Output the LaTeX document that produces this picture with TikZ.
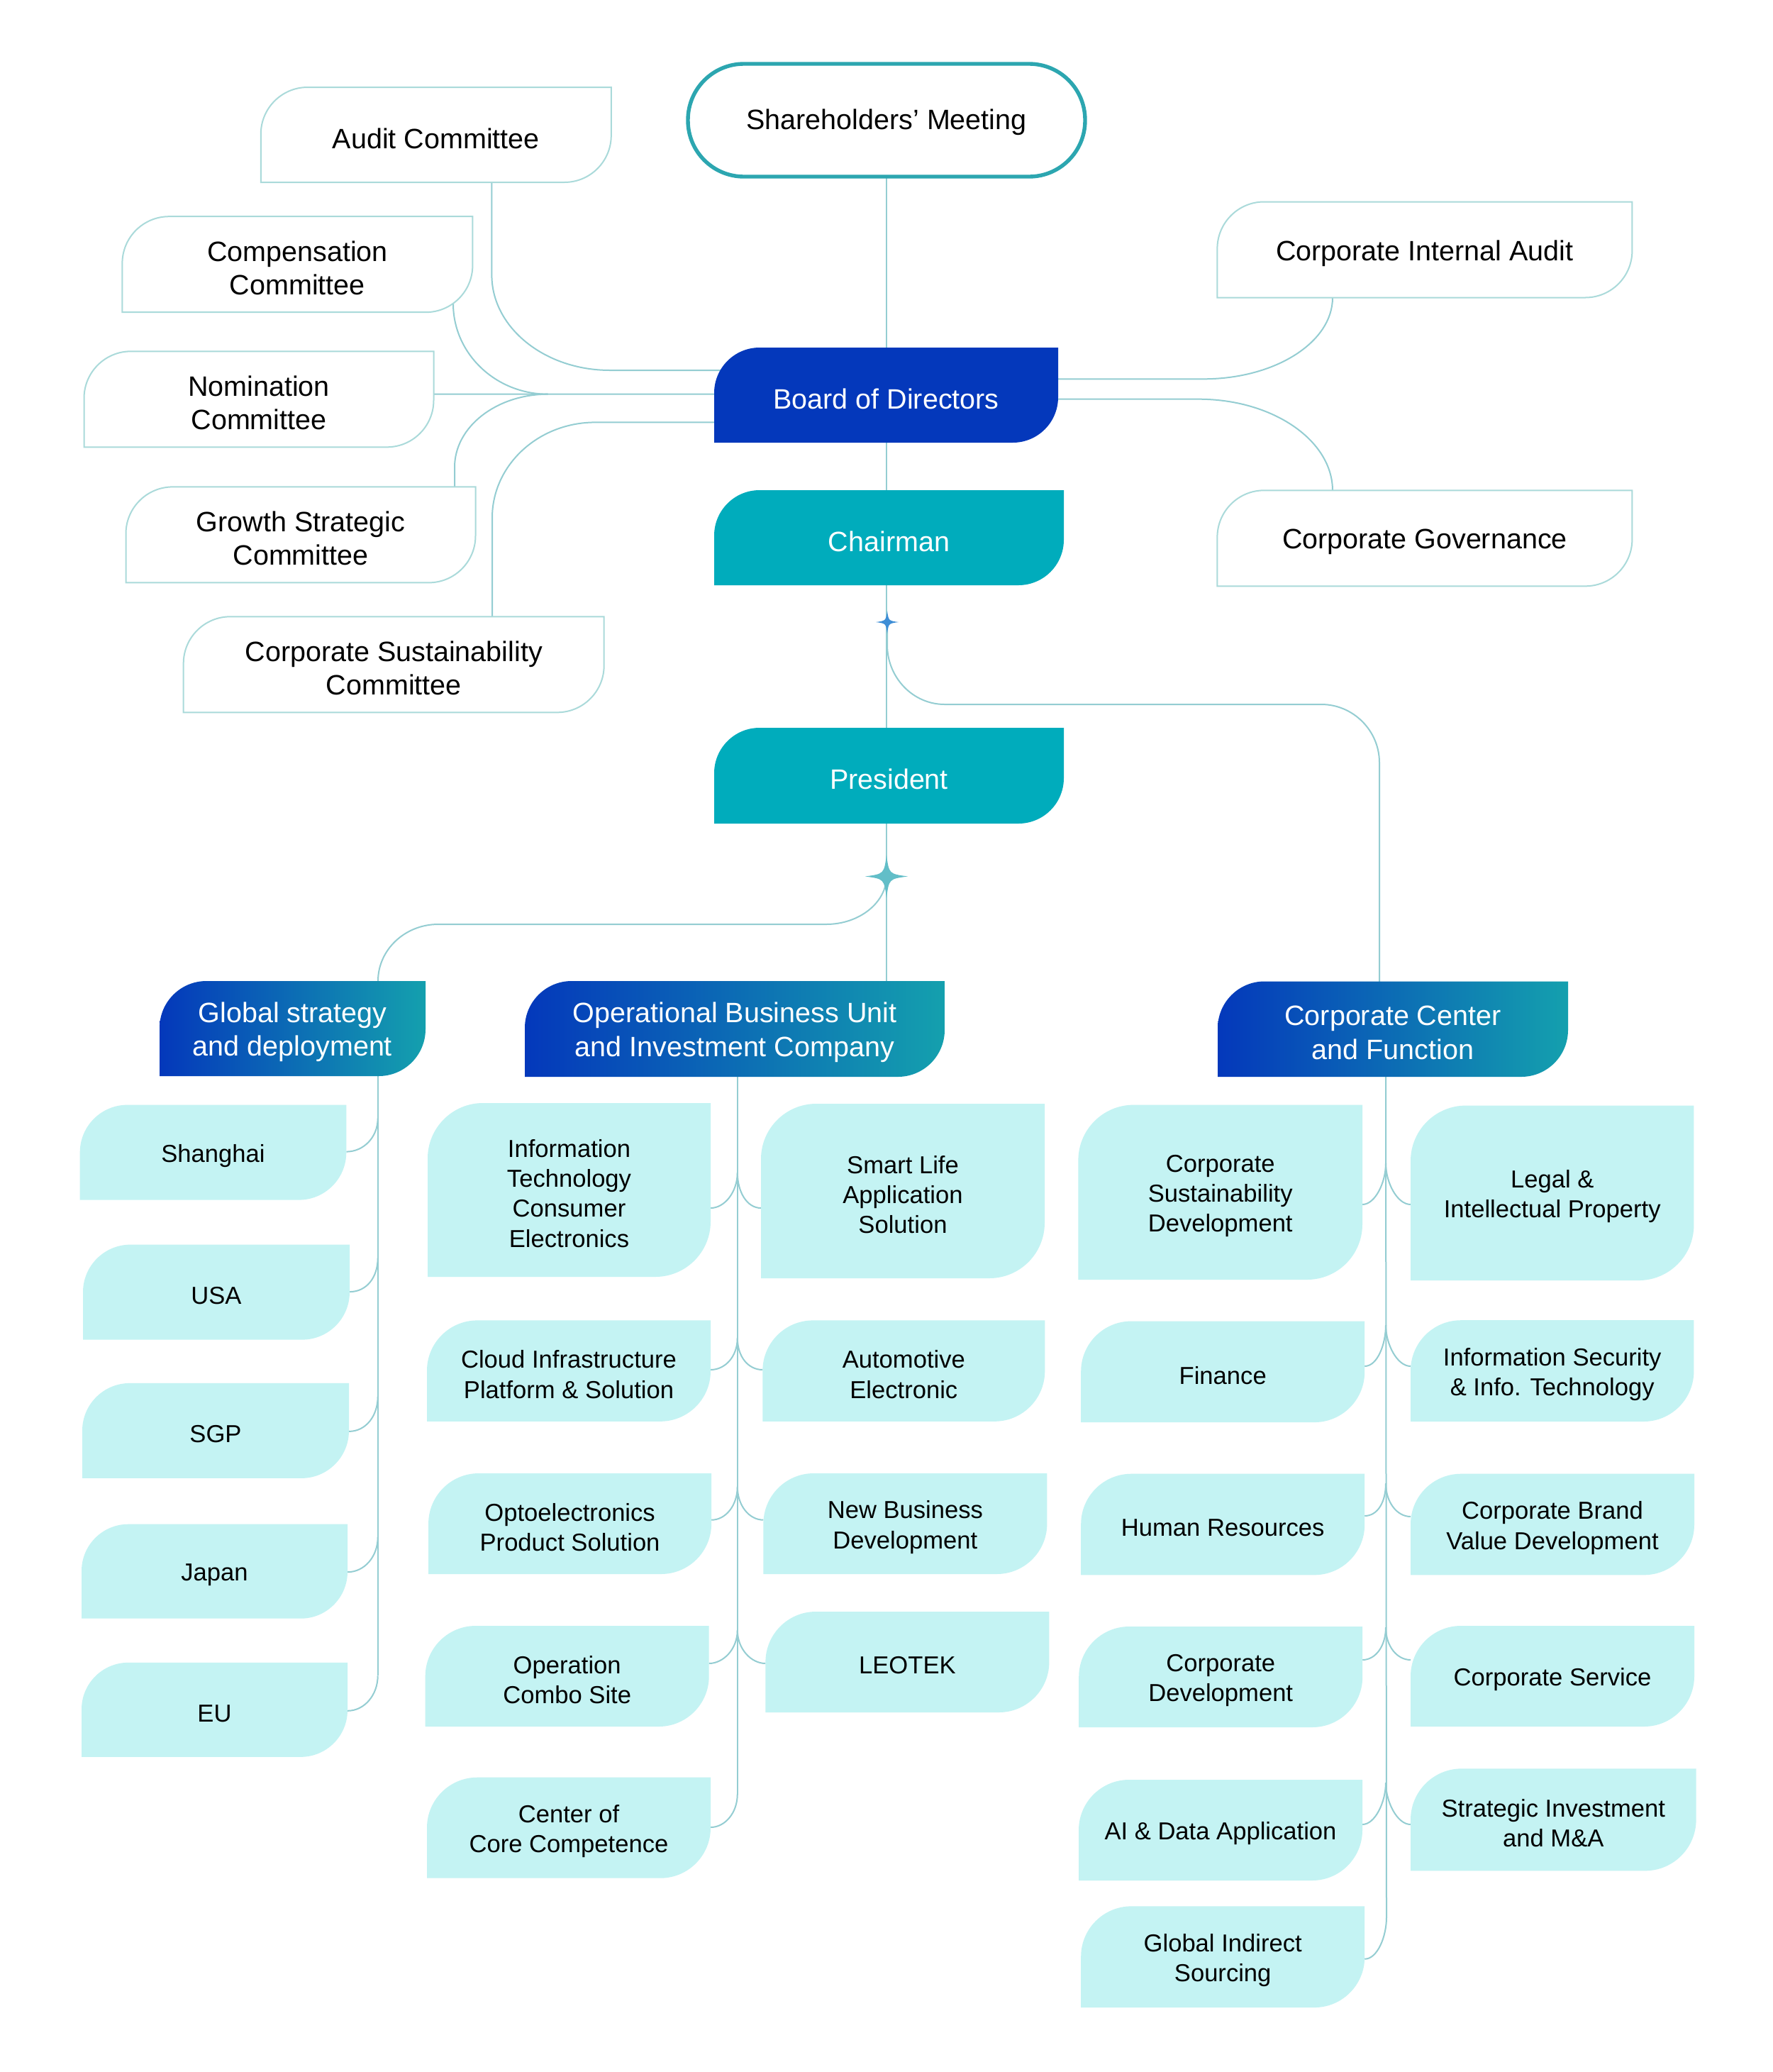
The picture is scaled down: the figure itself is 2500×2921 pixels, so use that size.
\documentclass[tikz,border=0pt]{standalone}
\usepackage{fontspec}
\setmainfont{Liberation Sans}
\usetikzlibrary{calc}
\pgfdeclarelayer{bg}
\pgfsetlayers{bg,main}
\definecolor{boardblue}{RGB}{4,56,187}
\definecolor{chairteal}{RGB}{0,172,188}
\definecolor{gradA}{RGB}{4,56,187}
\definecolor{gradB}{RGB}{20,160,174}
\definecolor{lightcyan}{RGB}{196,243,243}
\definecolor{shborder}{RGB}{44,166,176}
\definecolor{cmteline}{RGB}{170,218,218}
\definecolor{connc}{RGB}{148,205,210}
\definecolor{starblue}{RGB}{62,142,214}
\definecolor{starteal}{RGB}{98,190,200}
\tikzset{
  connline/.style={draw=connc, line width=2pt},
  cmtebox/.style={draw=cmteline, line width=2pt, fill=white},
  lightbox/.style={fill=lightcyan},
  gradbox/.style={left color=gradA, right color=gradB},
  boxframe/.style={inner sep=0pt, outer sep=0pt},
  txtA/.style={font=\fontsize{39.5}{47.5}\selectfont, align=center, text=black, inner sep=0pt},
  txtW/.style={txtA, text=white},
  txtB/.style={font=\fontsize{34.6}{42.2}\selectfont, align=center, text=black, inner sep=0pt},
}
% box with rounded top-left and bottom-right corners
\newcommand\tbox[9]{%
  \pgfmathsetmacro\bxa{#2-#4/2}%
  \pgfmathsetmacro\bxb{#2+#4/2}%
  \pgfmathsetmacro\bya{#3-#5/2}%
  \pgfmathsetmacro\byb{#3+#5/2}%
  \pgfmathsetmacro\bkk{0.448*#6}%
  \path[#7] (\bxa,\byb) -- (\bxa,\bya+#6) .. controls (\bxa,\bya+\bkk) and (\bxa+\bkk,\bya) .. (\bxa+#6,\bya) -- (\bxb,\bya) -- (\bxb,\byb-#6) .. controls (\bxb,\byb-\bkk) and (\bxb-\bkk,\byb) .. (\bxb-#6,\byb) -- cycle;
  \node[boxframe, minimum width=#4pt, minimum height=#5pt] (#1) at (#2,#3) {};
  \node[#8] (#1-text) at (#2,#3+5) {#9};
}
% four-pointed star
\newcommand\fstar[5]{%
  \coordinate (#1) at (#2,#3);
  \pgfmathsetmacro\sk{0.12*#4}%
  \fill[#5] (#2,#3-#4) .. controls (#2+\sk,#3-\sk) .. (#2+#4,#3) .. controls (#2+\sk,#3+\sk) .. (#2,#3+#4) .. controls (#2-\sk,#3+\sk) .. (#2-#4,#3) .. controls (#2-\sk,#3-\sk) .. (#2,#3-#4) -- cycle;
}
\newcommand\brL[4]{\draw[connline] (#1) .. controls +(0,27) and +(#4,0) .. ($(#2.east)+(0,#3)$);}
\newcommand\brR[4]{\draw[connline] (#1) .. controls +(0,27) and +(-#4,0) .. ($(#2.west)+(0,#3)$);}
\begin{document}
\begin{tikzpicture}[x=1pt,y=-1pt]
\begin{pgfonlayer}{bg}
\fill[white] (0,0) rectangle (2500,2921);
\end{pgfonlayer}
\useasboundingbox (0,0) rectangle (2500,2921);

% top
\draw[draw=shborder, line width=5.4pt, fill=white, rounded corners=79pt] (970,90) rectangle (1530,249);
\node[boxframe, minimum width=560pt, minimum height=159pt] (sh) at (1250,169.5) {};
\node[txtA] (sh-text) at (1250,172.5) {Shareholders’ Meeting};
\tbox{board}{1249.5}{557}{485}{134}{64}{fill=boardblue}{txtW}{Board of Directors}
\tbox{chair}{1253.5}{758}{493}{134}{64}{fill=chairteal}{txtW}{Chairman}
\tbox{pres}{1253.5}{1093.5}{493}{135}{64}{fill=chairteal}{txtW}{President}

% committees
\tbox{audit}{614.8}{190}{494}{134}{66}{cmtebox}{txtA}{Audit Committee}
\tbox{comp}{419.4}{372.7}{494}{135}{66}{cmtebox}{txtA}{Compensation\\Committee}
\tbox{nom}{365}{562.8}{493}{135}{66}{cmtebox}{txtA}{Nomination\\Committee}
\tbox{growth}{424}{753.9}{493}{135}{66}{cmtebox}{txtA}{Growth Strategic\\Committee}
\tbox{csc}{555.2}{936.8}{593}{135}{66}{cmtebox}{txtA}{Corporate Sustainability\\Committee}
\tbox{ia}{2008.9}{352}{585}{135}{66}{cmtebox}{txtA}{Corporate Internal Audit}
\tbox{gov}{2008.9}{758.8}{585}{135}{66}{cmtebox}{txtA}{Corporate Governance}

% stars
\fstar{sstar}{1251}{877}{16}{starblue}
\fstar{bstar}{1250}{1235.5}{30}{starteal}

% second level
\tbox{gs}{412.5}{1450}{375}{134}{66}{gradbox}{txtW}{Global strategy\\and deployment}
\tbox{obu}{1036}{1450.5}{592}{135}{66}{gradbox}{txtW}{Operational Business Unit\\and Investment Company}
\tbox{cc}{1964}{1450.75}{494}{134.5}{66}{gradbox}{txtW}{Corporate Center\\and Function}

% global
\tbox{sha}{300.5}{1624.6}{375.6}{134}{67}{lightbox}{txtB}{Shanghai}
\tbox{usa}{305}{1821.6}{376}{134}{67}{lightbox}{txtB}{USA}
\tbox{sgp}{304}{2016.9}{376}{134}{67}{lightbox}{txtB}{SGP}
\tbox{jpn}{302.5}{2215.2}{375}{133}{66}{lightbox}{txtB}{Japan}
\tbox{eu}{302.5}{2410.3}{375}{133}{66}{lightbox}{txtB}{EU}

% operational
\tbox{itce}{802.5}{1677.5}{399}{245}{78}{lightbox}{txtB}{Information\\Technology\\Consumer\\Electronics}
\tbox{sls}{1273}{1679}{400}{246}{78}{lightbox}{txtB}{Smart Life\\Application\\Solution}
\tbox{cloud}{802}{1932.6}{400}{142.4}{71}{lightbox}{txtB}{Cloud Infrastructure\\Platform \& Solution}
\tbox{auto}{1274.3}{1932.6}{398}{142.4}{71}{lightbox}{txtB}{Automotive\\Electronic}
\tbox{opto}{803.6}{2148}{399}{142}{71}{lightbox}{txtB}{Optoelectronics\\Product Solution}
\tbox{nbd}{1276.4}{2148}{400}{142}{71}{lightbox}{txtB}{New Business\\Development}
\tbox{ocs}{799.7}{2363}{400}{142}{71}{lightbox}{txtB}{Operation\\Combo Site}
\tbox{leo}{1279.4}{2343}{400}{142}{71}{lightbox}{txtB}{LEOTEK}
\tbox{core}{802}{2576.7}{400}{142}{71}{lightbox}{txtB}{Center of\\Core Competence}

% corporate
\tbox{csd}{1720.7}{1680.8}{400.6}{246.4}{78}{lightbox}{txtB}{Corporate\\Sustainability\\Development}
\tbox{legal}{2188.7}{1681.8}{399.4}{246.5}{78}{lightbox}{txtB}{Legal \&\\Intellectual Property}
\tbox{fin}{1724.2}{1933.8}{400}{142.5}{71}{lightbox}{txtB}{Finance}
\tbox{infosec}{2188.7}{1932.6}{399.4}{142.8}{71}{lightbox}{txtB}{Information Security\\\& Info. Technology}
\tbox{hr}{1724.2}{2149}{400}{142.6}{71}{lightbox}{txtB}{Human Resources}
\tbox{brand}{2189}{2149}{400}{142.6}{71}{lightbox}{txtB}{Corporate Brand\\Value Development}
\tbox{cdev}{1721.2}{2364}{400}{142}{71}{lightbox}{txtB}{Corporate\\Development}
\tbox{serv}{2189}{2363}{400}{142}{71}{lightbox}{txtB}{Corporate Service}
\tbox{ai}{1721}{2580}{400}{142}{71}{lightbox}{txtB}{AI \& Data Application}
\tbox{sim}{2190.3}{2565.3}{402.6}{144}{72}{lightbox}{txtB}{Strategic Investment\\and M\&A}
\tbox{gis}{1724.2}{2758.7}{400}{142.7}{71}{lightbox}{txtB}{Global Indirect\\Sourcing}

% trunk coordinates
\coordinate (g1) at (532.7,1576.6);
\coordinate (g2) at (532.7,1773.6);
\coordinate (g3) at (532.7,1968.9);
\coordinate (g4) at (532.7,2167.2);
\coordinate (g5) at (532.7,2362.3);
\coordinate (o1) at (1039.8,1653);
\coordinate (o2) at (1039.8,1886);
\coordinate (o3) at (1039.8,2095.6);
\coordinate (o4) at (1039.8,2298);
\coordinate (o5) at (1039.8,2529);
\coordinate (c1) at (1954,1640);
\coordinate (c2) at (1954,1868);
\coordinate (c3) at (1954,2091);
\coordinate (c4) at (1954,2294);
\coordinate (c5) at (1954,2513);
\coordinate (c6) at (1955,2703);

\begin{pgfonlayer}{bg}
\draw[connline] (sh.south) -- ($(obu.north)+(214,10)$);
% committees
\draw[connline] ($(audit.south)+(78.6,-10)$) -- (693.4,387.7) .. controls (693.4,461.8) and (768,522) .. (860,522) -- ($(board.west)+(10,-35)$);
\draw[connline] ($(comp.center)+(219.6,20)$) -- (639,428) .. controls (639,498.5) and (698.9,555.7) .. (772.7,555.7);
\draw[connline] ($(nom.east)+(-5,-7.3)$) -- ($(board.west)+(10,-1.3)$);
\draw[connline] ($(growth.north)+(217,10)$) -- (641,658.6) .. controls (641,601.7) and (700,555.7) .. (772.7,555.7);
\draw[connline] ($(board.west)+(10,38.4)$) -- (839.4,595.4) .. controls (759,595.4) and (694,655.7) .. (694,730) -- ($(csc.north)+(138.8,10)$);
\draw[connline] ($(board.east)+(-10,-22.7)$) -- (1696.7,534.3) .. controls (1797.3,534.3) and (1879,482.9) .. (1879,419.5) -- ($(ia.south)+(-129.9,-10)$);
\draw[connline] ($(board.east)+(-10,5.7)$) -- (1690,562.7) .. controls (1794,562.7) and (1879,620.5) .. (1879,691.7) -- ($(gov.north)+(-129.9,10)$);
% chairman star to corporate center
\draw[connline] (sstar) -- (1251,909) .. controls (1251,955) and (1287,993) .. (1332,993) -- (1863,993) .. controls (1908,993) and (1945,1030) .. (1945,1075) -- ($(cc.north)+(-19,10)$);
% president star to global
\draw[connline] (bstar) .. controls (1250,1272) and (1212,1303) .. (1165,1303) -- (618,1303) .. controls (571,1303) and (533,1339) .. (533,1383) -- ($(gs.north)+(120.5,10)$);
% trunks
\draw[connline] ($(gs.south)+(120.2,-10)$) -- (g5);
\draw[connline] ($(obu.south)+(3.8,-10)$) -- (o5);
\draw[connline] ($(cc.south)+(-10,-10)$) -- (c6);
% global branches
\brL{g1}{sha}{-1}{24}
\brL{g2}{usa}{-0.5}{24}
\brL{g3}{sgp}{1}{24}
\brL{g4}{jpn}{1}{24}
\brL{g5}{eu}{1.5}{24}
% operational branches
\brL{o1}{itce}{25.5}{20}
\brR{o1}{sls}{24}{20}
\brL{o2}{cloud}{-1.6}{20}
\brR{o2}{auto}{-1.6}{20}
\brL{o3}{opto}{-5.3}{20}
\brR{o3}{nbd}{-5.3}{20}
\brL{o4}{ocs}{-18}{20}
\brR{o4}{leo}{2}{20}
\brL{o5}{core}{-0.7}{20}
% corporate branches
\brL{c1}{csd}{17.2}{18}
\brR{c1}{legal}{16.2}{19}
\brL{c2}{fin}{-7.8}{18}
\brR{c2}{infosec}{-6.6}{19}
\brL{c3}{hr}{-12}{18}
\brR{c3}{brand}{-11}{19}
\brL{c4}{cdev}{-24}{18}
\brR{c4}{serv}{-23}{19}
\brL{c5}{ai}{-8}{18}
\brR{c5}{sim}{6.7}{19}
\brL{c6}{gis}{3}{18}
\end{pgfonlayer}
\end{tikzpicture}
\end{document}
